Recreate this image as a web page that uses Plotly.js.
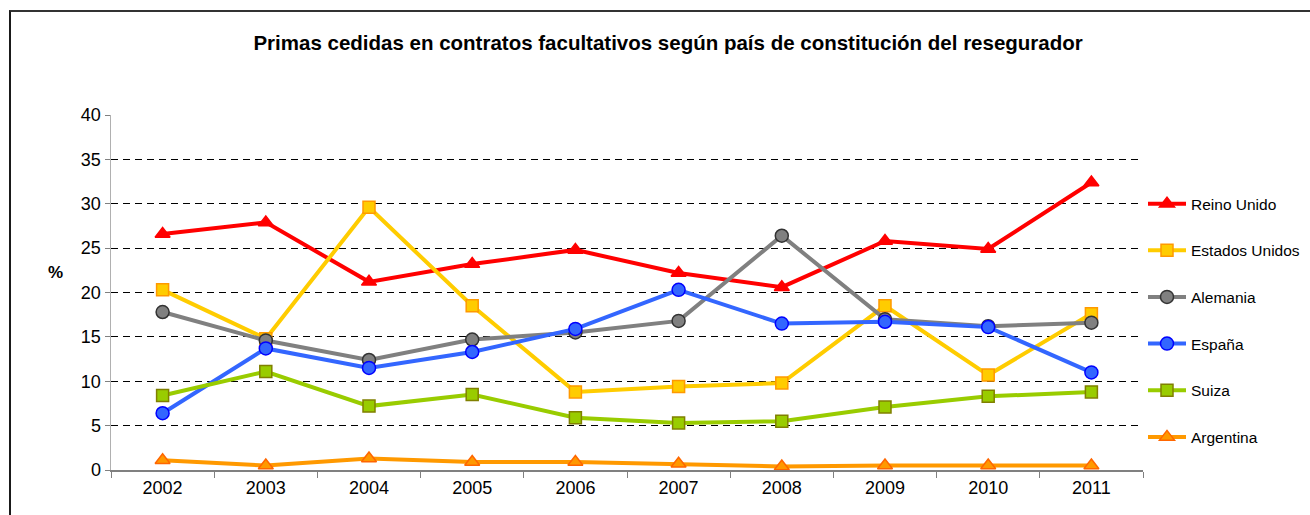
<!DOCTYPE html>
<html>
<head>
<meta charset="utf-8">
<script src="https://cdn.plot.ly/plotly-3.0.1.min.js"></script>
<style>
  html, body { margin: 0; padding: 0; background: #fff; }
  #wrap { position: relative; width: 1310px; height: 515px; overflow: hidden; }
  #chart { width: 1310px; height: 515px; }
  #frame { position: absolute; left: 9px; top: 10px; width: 1400px; height: 600px;
           border-left: 2px solid #1a1a1a; border-top: 2px solid #333; pointer-events: none; }
</style>
</head>
<body>
<div id="wrap">
  <div id="chart"></div>
  <div id="frame"></div>
</div>
<script>
const years = ['2002','2003','2004','2005','2006','2007','2008','2009','2010','2011'];
const reinoUnido     = [26.6, 27.9, 21.2, 23.2, 24.8, 22.2, 20.6, 25.8, 24.9, 32.4];
const estadosUnidos  = [20.3, 14.8, 29.6, 18.5, 8.8, 9.4, 9.8, 18.5, 10.7, 17.6];
const alemania       = [17.8, 14.6, 12.4, 14.7, 15.5, 16.8, 26.4, 17.0, 16.2, 16.6];
const espana         = [6.4, 13.7, 11.5, 13.3, 15.9, 20.3, 16.5, 16.7, 16.1, 11.0];
const suiza          = [8.4, 11.1, 7.2, 8.5, 5.9, 5.3, 5.5, 7.1, 8.3, 8.8];
const argentina      = [1.1, 0.5, 1.3, 0.9, 0.9, 0.7, 0.4, 0.5, 0.5, 0.5];
const yTicks = [0, 5, 10, 15, 20, 25, 30, 35, 40];

const FONT = 'Liberation Sans, Arial, sans-serif';

function tr(name, y, lineColor, sym, fill, border, size, grp) {
  return {
    type: 'scatter', mode: 'lines+markers', name: name, x: years, y: y,
    legendgroup: grp,
    line: { color: lineColor, width: 4 },
    marker: { symbol: sym, color: fill, size: size, line: { color: border, width: 1.5 } },
    cliponaxis: false
  };
}

const data = [
  tr('Reino Unido', reinoUnido, '#FF0000', 'triangle-up', '#FF0000', '#FF0000', 13, 'a'),
  tr('Estados Unidos', estadosUnidos, '#FFCC00', 'square', '#FFCC00', '#FF9900', 12, 'b'),
  tr('Alemania', alemania, '#808080', 'circle', '#808080', '#333333', 13, 'c'),
  tr('España', espana, '#3366FF', 'circle', '#3366FF', '#0000FF', 13, 'd'),
  tr('Suiza', suiza, '#99CC00', 'square', '#99CC00', '#808000', 12, 'e'),
  tr('Argentina', argentina, '#FF9900', 'triangle-up', '#FF9900', '#FF6600', 13, 'f')
];

const layout = {
  width: 1310, height: 515,
  margin: { l: 111, r: 167, t: 115, b: 45, autoexpand: false },
  paper_bgcolor: '#ffffff', plot_bgcolor: '#ffffff',
  font: { family: FONT, size: 15, color: '#000' },
  title: {
    text: '<b>Primas cedidas en contratos facultativos según país de constitución del resegurador</b>',
    font: { family: FONT, size: 20.5, color: '#000' },
    x: 0.51, xanchor: 'center', y: 0.917, yanchor: 'middle'
  },
  xaxis: {
    type: 'category', range: [-0.5, 9.5],
    showgrid: false, zeroline: false,
    showline: true, linecolor: '#808080', linewidth: 2,
    ticks: 'outside', tickson: 'boundaries', ticklen: 6, tickcolor: '#808080', tickwidth: 1,
    tickfont: { family: FONT, size: 18, color: '#000' },
    fixedrange: true
  },
  yaxis: {
    range: [0, 40], tickvals: yTicks, ticktext: yTicks.map(String),
    showgrid: true, gridcolor: '#000000', gridwidth: 1, griddash: '7px,5px',
    zeroline: false,
    showline: true, linecolor: '#b0b0b0', linewidth: 1.5,
    ticks: 'outside', ticklen: 5, tickcolor: '#808080',
    tickfont: { family: FONT, size: 18, color: '#000' },
    fixedrange: true
  },
  showlegend: true,
  legend: {
    x: 1.0, xanchor: 'left', y: 0.797, yanchor: 'top',
    font: { family: FONT, size: 15.5, color: '#000' },
    tracegroupgap: 23.5, bgcolor: 'rgba(0,0,0,0)', itemwidth: 38
  },
  annotations: [{
    text: '<b>%</b>', xref: 'paper', yref: 'paper',
    x: (55 - 111) / 1032, y: (470 - 272) / 355, xanchor: 'center', yanchor: 'middle',
    showarrow: false, font: { family: FONT, size: 17, color: '#000' }
  }]
};

Plotly.newPlot('chart', data, layout, { displayModeBar: false, staticPlot: true });
</script>
</body>
</html>
